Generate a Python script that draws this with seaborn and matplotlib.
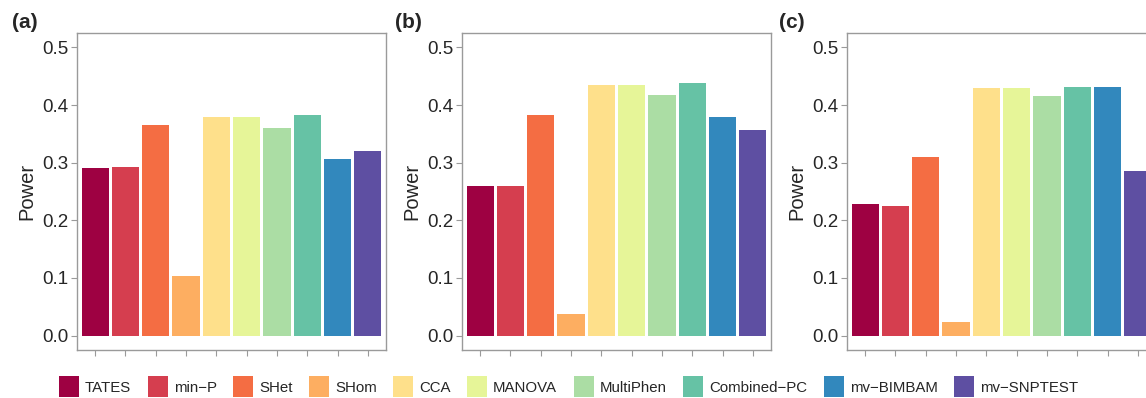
import matplotlib
matplotlib.use("Agg")
import matplotlib.pyplot as plt
import matplotlib.patches as mpatches
import seaborn as sns
import pandas as pd

methods = ["TATES", "min\u2212P", "SHet", "SHom", "CCA", "MANOVA", "MultiPhen",
           "Combined\u2212PC", "mv\u2212BIMBAM", "mv\u2212SNPTEST"]
power_a = [0.290, 0.292, 0.366, 0.103, 0.380, 0.380, 0.361, 0.382, 0.306, 0.320]
power_b = [0.259, 0.259, 0.382, 0.0375, 0.435, 0.435, 0.417, 0.439, 0.380, 0.356]
power_c = [0.228, 0.224, 0.309, 0.024, 0.430, 0.430, 0.415, 0.432, 0.432, 0.285]
panel_labels = ["(a)", "(b)", "(c)"]
y_ticks = [0.0, 0.1, 0.2, 0.3, 0.4, 0.5]

colors = ["#9E0142", "#D53E4F", "#F46D43", "#FDAE61", "#FEE08B",
          "#E6F598", "#ABDDA4", "#66C2A5", "#3288BD", "#5E4FA2"]

sns.set_style("white")
plt.rcParams["font.family"] = ["Liberation Sans", "DejaVu Sans"]

W, H = 1146, 398
fig = plt.figure(figsize=(W / 100, H / 100), dpi=100)

lefts = [77, 462, 847]
width_px = 309
top_px, bot_px = 33, 350
label_x = [12, 395, 779]
spine_col = "#9a9a9a"

for i, vals in enumerate([power_a, power_b, power_c]):
    ax = fig.add_axes([lefts[i] / W, 1 - bot_px / H, width_px / W, (bot_px - top_px) / H])
    df = pd.DataFrame({"method": methods, "power": vals})
    sns.barplot(data=df, x="method", y="power", hue="method", palette=colors,
                order=methods, hue_order=methods, width=0.9, legend=False,
                saturation=1, edgecolor="none", ax=ax)
    ax.set_xlim(-0.6, 9.6)
    ax.set_ylim(-0.025, 0.525)
    ax.set_yticks(y_ticks)
    ax.set_yticklabels([f"{t:.1f}" for t in y_ticks])
    ax.set_xticks(range(len(methods)))
    ax.set_xticklabels([])
    ax.set_xlabel("")
    ax.set_ylabel("Power", fontsize=14.5, labelpad=4)
    ax.tick_params(axis="both", which="both", length=4, width=0.8, color=spine_col,
                   labelsize=13.5, pad=2, direction="out")
    ax.tick_params(axis="x", bottom=True)
    ax.tick_params(axis="y", left=True)
    for s in ax.spines.values():
        s.set_color(spine_col)
        s.set_linewidth(1.0)
    fig.text(label_x[i] / W, 1 - 13 / H, panel_labels[i], fontsize=15,
             fontweight="bold", ha="left", va="top")

handles = [mpatches.Patch(facecolor=c, edgecolor="none", label=m)
           for c, m in zip(colors, methods)]
fig.legend(handles=handles, loc="lower center", ncol=10,
           bbox_to_anchor=(568.5 / W, 0.0), frameon=False, fontsize=10.8,
           handlelength=1.33, handleheight=1.78, handletextpad=0.4,
           columnspacing=1.1, borderaxespad=0.0, borderpad=0.05)

fig.savefig("out.png", dpi=100)
